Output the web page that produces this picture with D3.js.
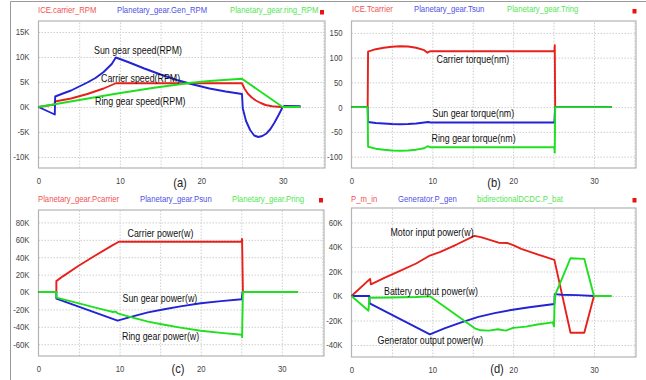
<!DOCTYPE html>
<html>
<head>
<meta charset="utf-8">
<script src="https://cdn.jsdelivr.net/npm/d3@7"></script>
<style>
body { margin: 0; background: #fff; }
svg { display: block; font-family: "Liberation Sans", Arial, sans-serif; }
</style>
</head>
<body>
<div id="chart"></div>
<script>
/*------------------------------- data -------------------------------*/

// (a) speeds, RPM  [time s, value]
const carrierRpm = [[0,0],[2,500],[2,1100],[4,1700],[6,2600],[8,3700],[9.5,4750],[25,4750],[25.3,3700],[25.7,2700],[26.2,1900],[26.7,1300],[27.3,800],[27.9,400],[28.7,150],[29.8,0],[32.2,0]];
const sunRpm = [[0,0],[2,-1500],[2.05,2100],[3,2700],[4,3300],[5,4100],[6,4900],[7,5800],[8,7000],[9,8600],[9.5,9900],[11,9000],[13,7700],[15,6500],[17,5400],[19,4500],[21,3700],[23,3100],[25,2600],[25.1,-300],[25.5,-2800],[26,-4600],[26.5,-5700],[27,-6000],[27.5,-5800],[28,-5300],[28.5,-4400],[29,-3100],[29.5,-1600],[30,0],[30.2,200],[32.2,150]];
const ringRpm = [[0,0],[2,550],[5,1400],[9.5,2650],[14,3800],[18.5,4800],[21,5200],[25,5650],[30,0],[32.2,0]];

// (b) torques, Nm
const carrierTorque = [[0,0],[2,0],[2.05,112],[3,117],[4,120],[5,122],[6,123],[7,122.5],[8,120],[9,115],[9.4,110],[9.7,113],[25.1,113],[25.15,125],[25.2,0],[32.2,0]];
const sunTorque = [[0,0],[2,0],[2.05,-30],[3,-32],[4,-33],[5,-34],[6,-34.5],[7,-34],[8,-33],[9.5,-30],[9.7,-31],[25.1,-31],[25.2,0],[32.2,0]];
const ringTorque = [[0,0],[2,0],[2.05,-80],[3,-84],[4,-86],[5,-87.5],[6,-88],[7,-87.5],[8,-86],[9,-83],[9.4,-79],[9.7,-81],[25.1,-81],[25.15,-92],[25.2,0],[32.2,0]];

// (c) gear powers, W
const carrierPower = [[0,0],[2.2,0],[2.2,12500],[3,18000],[5,30500],[7,42000],[9,53000],[9.9,57800],[25.05,57800],[25.1,61000],[25.2,0],[32,0]];
const sunPower = [[0,0],[2.2,0],[2.2,-7500],[9.75,-33000],[11.5,-28400],[13.5,-23500],[15.5,-19800],[17.5,-16500],[20,-13000],[22.5,-10500],[25.05,-8400],[25.15,0],[32,0]];
const ringPower = [[0,0],[2.2,0],[2.2,-6500],[5,-13000],[7,-18000],[8.5,-21500],[9.2,-23000],[9.5,-22500],[9.75,-24500],[11.5,-29100],[13.5,-34000],[15.5,-37700],[17.5,-41000],[20,-44500],[22.5,-47000],[25.05,-49100],[25.1,-52000],[25.2,0],[32,0]];

// (d) electric powers, W
const motorPower = [[0,0],[2.3,14000],[2.4,9500],[4,14500],[6,20500],[8,26500],[9.7,33000],[11,36000],[13,42000],[15.2,49000],[16,48000],[17.5,45000],[18.2,43500],[19.3,43200],[20,41500],[21,38500],[23,34000],[25.1,29500],[27.1,-30000],[28.8,-30000],[30,0],[32,0]];
const genPower = [[0,0],[2.2,0],[2.25,-6000],[9.7,-31300],[11.5,-26500],[13.5,-21800],[15.7,-17000],[17.7,-14000],[19.75,-11400],[22,-9200],[25.1,-6500],[25.15,1500],[26,1000],[28,700],[30,0],[32,0]];
const batPower = [[0,0],[2.1,-12000],[2.2,-1400],[5,-1200],[8,-800],[9.7,-300],[15.25,-26400],[16,-28000],[17,-28300],[18.1,-27200],[19.1,-28300],[20,-26000],[21.6,-25000],[23,-23300],[24.9,-21500],[25.05,-25000],[25.15,0],[27.1,30800],[28.8,30300],[30,0],[32.2,0]];

// ticks
const timeTicks = [0, 10, 20, 30];
const timeGrid = [5, 10, 15, 20, 25, 30, 35];
const rpmTicks = [-10000, -5000, 0, 5000, 10000, 15000];
const torqueTicks = [-100, -50, 0, 50, 100, 150];
const gearPowerTicks = [-60000, -40000, -20000, 0, 20000, 40000, 60000, 80000];
const elecPowerTicks = [-40000, -20000, 0, 20000, 40000, 60000];

// legend and annotation texts
const legendA = ["ICE.carrier_RPM", "Planetary_gear.Gen_RPM", "Planetary_gear.ring_RPM"];
const legendB = ["ICE.Tcarrier", "Planetary_gear.Tsun", "Planetary_gear.Tring"];
const legendC = ["Planetary_gear.Pcarrier", "Planetary_gear.Psun", "Planetary_gear.Pring"];
const legendD = ["P_m_in", "Generator.P_gen", "bidirectionalDCDC.P_bat"];
const notesA = ["Sun gear speed(RPM)", "Carrier speed(RPM)", "Ring gear speed(RPM)"];
const notesB = ["Carrier torque(nm)", "Sun gear torque(nm)", "Ring gear torque(nm)"];
const notesC = ["Carrier power(w)", "Sun gear power(w)", "Ring gear power(w)"];
const notesD = ["Motor input power(w)", "Battery output power(w)", "Generator output power(w)"];

/*------------------------------- layout -------------------------------*/

const colors = ["#e8201c", "#2323d6", "#1fe01f"];
const legendColors = ["#f25252", "#5050e6", "#55e655"];
const squeeze = 0.86;
const kFmt = d => d / 1000 + "K";

const panels = [
    { box: [38.5, 21, 325, 168], y: [-12200, 17200], ticks: rpmTicks, fmt: kFmt,
      series: [carrierRpm, sunRpm, ringRpm], legend: legendA, legendX: [38, 117, 230], legendY: 12.5, square: [320, 10],
      notes: notesA, noteXY: [[94, 53.5], [101, 81.5], [95, 104.5]], tag: "(a)", tagXY: [180, 186.5] },
    { box: [351.5, 21, 636, 168], y: [-123, 174], ticks: torqueTicks, fmt: d => d,
      series: [carrierTorque, sunTorque, ringTorque], legend: legendB, legendX: [352, 414, 507], legendY: 12, square: [632.5, 9],
      notes: notesB, noteXY: [[436.5, 62.5], [432.5, 117], [431.5, 142]], tag: "(b)", tagXY: [494, 186.5] },
    { box: [38.5, 210, 324, 356], y: [-73600, 94300], ticks: gearPowerTicks, fmt: kFmt,
      series: [carrierPower, sunPower, ringPower], legend: legendC, legendX: [38, 140, 232], legendY: 201.5, square: [319, 198],
      notes: notesC, noteXY: [[127.5, 237], [122.5, 301.5], [122, 340]], tag: "(c)", tagXY: [178, 372.5] },
    { box: [351.5, 208, 636, 357], y: [-49800, 71800], ticks: elecPowerTicks, fmt: kFmt,
      series: [motorPower, genPower, batPower], legend: legendD, legendX: [351, 398, 477], legendY: 201.5, square: [632.5, 198],
      notes: notesD, noteXY: [[390.5, 235.5], [384, 294.5], [377.5, 344]], tag: "(d)", tagXY: [497, 372.5] }
];

const svg = d3.select("#chart").append("svg").attr("width", 646).attr("height", 380);

svg.append("rect").attr("width", 646).attr("height", 380).attr("fill", "#fff");
// outer frame (left and top)
svg.append("path").attr("d", "M10.5,380V1.5H646").attr("fill", "none").attr("stroke", "#9a9a9a");

const putText = (g, x, y, str, size, color, anchor) => g.append("text")
    .attr("transform", `translate(${x},${y}) scale(${squeeze},1)`)
    .attr("text-anchor", anchor || "start")
    .style("font-size", size + "px")
    .style("fill", color)
    .text(str);

/*------------------------------- panels -------------------------------*/

panels.forEach(p => {
    const [L, T, R, B] = p.box;
    const x = d3.scaleLinear().domain([0, 35.2]).range([L, R]);
    const y = d3.scaleLinear().domain(p.y).range([B, T]);
    const g = svg.append("g");

    // grid
    g.append("g")
        .attr("transform", `translate(0,${B})`)
        .call(d3.axisBottom(x).tickValues(timeGrid).tickSize(-(B - T)).tickFormat(""))
        .call(a => a.select(".domain").remove())
        .call(a => a.selectAll("line").attr("stroke", "#cfcfcf").attr("stroke-dasharray", "1.5,1.5"));
    g.append("g")
        .attr("transform", `translate(${L},0)`)
        .call(d3.axisLeft(y).tickValues(p.ticks).tickSize(-(R - L)).tickFormat(""))
        .call(a => a.select(".domain").remove())
        .call(a => a.selectAll("line").attr("stroke", "#cfcfcf").attr("stroke-dasharray", "1.5,1.5"));

    // plot border
    g.append("rect")
        .attr("x", L).attr("y", T).attr("width", R - L).attr("height", B - T)
        .attr("fill", "none").attr("stroke", "#b4b4b4").attr("stroke-width", 1.2);

    // tick labels
    g.append("g")
        .attr("transform", `translate(${L},0)`)
        .call(d3.axisLeft(y).tickValues(p.ticks).tickSize(0).tickPadding(10.5).tickFormat(p.fmt))
        .call(a => a.select(".domain").remove())
        .call(a => a.selectAll("text")
            .attr("transform", `scale(${squeeze},1)`)
            .style("font-size", "9px").style("font-family", "Liberation Sans, Arial, sans-serif").style("fill", "#444"));
    g.append("g")
        .attr("transform", `translate(0,${B})`)
        .call(d3.axisBottom(x).tickValues(timeTicks).tickSize(0).tickPadding(10))
        .call(a => a.select(".domain").remove())
        .call(a => a.selectAll(".tick text")
            .style("font-size", "9px").style("font-family", "Liberation Sans, Arial, sans-serif").style("fill", "#444"))
        .call(a => a.selectAll(".tick").each(function () {
            const t = d3.select(this).select("text");
            t.attr("transform", `scale(${squeeze},1)`);
        }));

    // lines
    const line = d3.line().x(d => x(d[0])).y(d => y(d[1]));
    p.series.forEach((s, i) => {
        g.append("path")
            .datum(s)
            .attr("d", line)
            .attr("fill", "none")
            .attr("stroke", colors[i])
            .attr("stroke-width", 1.9)
            .attr("stroke-linejoin", "round");
    });

    // legend
    p.legend.forEach((name, i) => putText(g, p.legendX[i], p.legendY, name, 9, legendColors[i]));
    g.append("rect").attr("x", p.square[0]).attr("y", p.square[1]).attr("width", 4).attr("height", 4.5).attr("fill", "#ee1111");

    // annotations
    p.notes.forEach((n, i) => putText(g, p.noteXY[i][0], p.noteXY[i][1], n, 10.3, "#111"));
    putText(g, p.tagXY[0], p.tagXY[1], p.tag, 13, "#222", "middle");
});
</script>
</body>
</html>
